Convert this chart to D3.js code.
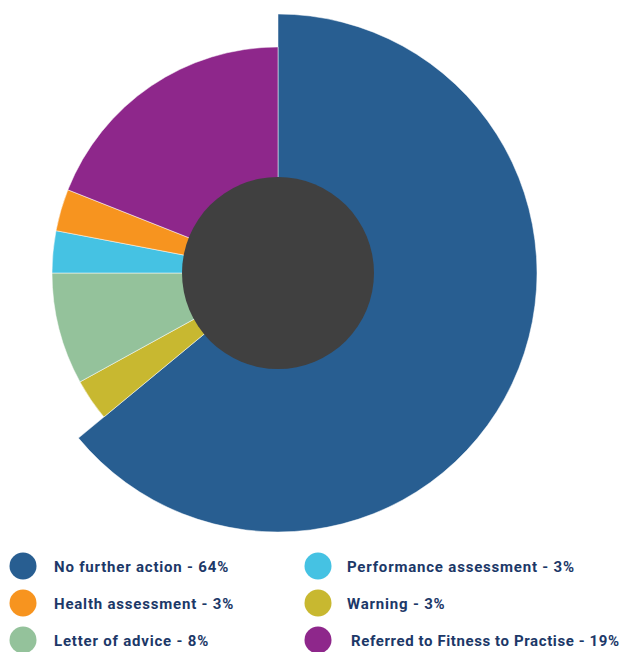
<!DOCTYPE html>
<html>
<head>
<meta charset="utf-8">
<script src="https://cdn.jsdelivr.net/npm/d3@7"></script>
<style>
  body { margin: 0; background: #fff; }
  text { font-family: "Roboto", "Open Sans", sans-serif; font-weight: 700; fill: #1c3868; }
</style>
</head>
<body>
<script>
// slices, clockwise from 12 o'clock
var labels = ["No further action", "Warning", "Letter of advice", "Performance assessment", "Health assessment", "Referred to Fitness to Practise"];
var values = [64, 3, 8, 3, 3, 19];
var colors = ["#285e91", "#c8b830", "#94c29b", "#45c2e3", "#f7941f", "#8e278b"];

// legend order (two columns)
var legendOrder = [0, 4, 2, 3, 1, 5];

var w = 623, h = 652;
var cx = 278, cy = 273;

var svg = d3.select("body").append("svg")
    .attr("width", w)
    .attr("height", h);

var pie = d3.pie().sort(null).value(function(d) { return d; });
var arcs = pie(values);

// the first slice is pulled out bigger than the rest
var arcBig = d3.arc().innerRadius(0).outerRadius(259);
var arcSmall = d3.arc().innerRadius(0).outerRadius(226);

var g = svg.append("g").attr("transform", "translate(" + cx + "," + cy + ")");

g.selectAll("path")
    .data(arcs)
    .enter()
    .append("path")
    .attr("d", function(d, i) { return i == 0 ? arcBig(d) : arcSmall(d); })
    .attr("fill", function(d, i) { return colors[i]; })
    .attr("stroke", "#fff")
    .attr("stroke-width", 0.5);

g.append("circle")
    .attr("r", 96)
    .attr("fill", "#404040");

// legend
var rowY = [566, 603, 640];
var leg = svg.append("g");
legendOrder.forEach(function(idx, k) {
  var col = Math.floor(k / 3), row = k % 3;
  var x = col == 0 ? 23 : 318;
  var tx = col == 0 ? 54 : 347;
  if (idx == 5) tx = 351;
  leg.append("circle")
      .attr("cx", x).attr("cy", rowY[row])
      .attr("r", 13.5)
      .attr("fill", colors[idx]);
  leg.append("text")
      .attr("x", tx).attr("y", rowY[row] + 5.5)
      .attr("font-size", "15px")
      .attr("letter-spacing", idx == 5 ? "0.6px" : "0.8px")
      .text(labels[idx] + " - " + values[idx] + "%");
});
</script>
</body>
</html>
